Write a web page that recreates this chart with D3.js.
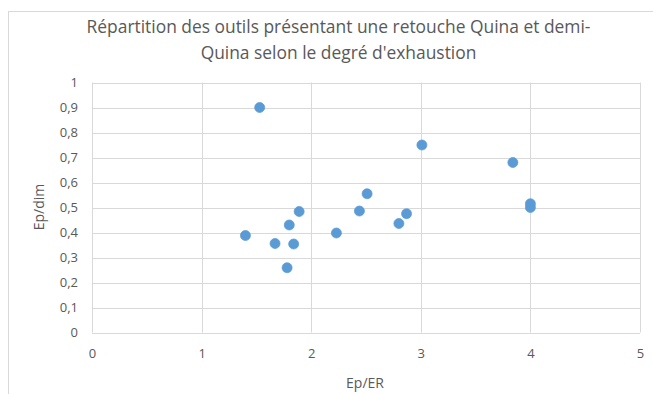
<!DOCTYPE html>
<html>
<head>
<meta charset="utf-8">
<script src="https://cdn.jsdelivr.net/npm/d3@7"></script>
<style>
  html, body { margin: 0; padding: 0; background: #fff; }
  svg { display: block; font-family: "Open Sans", "Liberation Sans", sans-serif; }
</style>
</head>
<body>
<svg id="chart" width="653" height="394"></svg>
<script>
// Ep/ER (x) and Ep/dim (y) for each tool
const epER  = [1.53, 3.01, 3.84, 4.00, 4.00, 2.51, 2.44, 2.87, 2.80, 2.23, 1.89, 1.80, 1.40, 1.67, 1.84, 1.78];
const epDim = [0.90, 0.75, 0.68, 0.515, 0.50, 0.555, 0.486, 0.475, 0.436, 0.398, 0.484, 0.43, 0.388, 0.356, 0.354, 0.259];
const xTicks = [0, 1, 2, 3, 4, 5];
const yTicks = [0, 0.1, 0.2, 0.3, 0.4, 0.5, 0.6, 0.7, 0.8, 0.9, 1];
const titleLines = ["Répartition des outils présentant une retouche Quina et demi-",
                    "Quina selon le degré d'exhaustion"];
const xTitle = "Ep/ER";
const yTitle = "Ep/dim";

const svg = d3.select("#chart");
const textColor = "#595959";
const gridColor = "#d9d9d9";

// chart frame
svg.append("rect")
  .attr("x", 8.5).attr("y", 11.5)
  .attr("width", 660).attr("height", 400)
  .attr("fill", "#fff").attr("stroke", "#d9d9d9");

const plot = { left: 92, right: 640, top: 82.5, bottom: 332.5 };
const x = d3.scaleLinear().domain([0, 5]).range([plot.left, plot.right]);
const y = d3.scaleLinear().domain([0, 1]).range([plot.bottom, plot.top]);

// gridlines
svg.append("g").selectAll("line.h").data(yTicks).join("line")
  .attr("x1", plot.left).attr("x2", plot.right)
  .attr("y1", d => Math.round(y(d)) + 0.5).attr("y2", d => Math.round(y(d)) + 0.5)
  .attr("stroke", gridColor);
svg.append("g").selectAll("line.v").data(xTicks).join("line")
  .attr("y1", plot.top).attr("y2", plot.bottom)
  .attr("x1", d => Math.round(x(d)) + 0.5).attr("x2", d => Math.round(x(d)) + 0.5)
  .attr("stroke", gridColor);

const fmt = d => String(+d.toFixed(1)).replace(".", ",");

// axes (labels only, lines come from the grid)
const xAxis = svg.append("g").attr("transform", `translate(0,${plot.bottom})`)
  .call(d3.axisBottom(x).tickValues(xTicks).tickFormat(fmt).tickSize(0).tickPadding(16));
const yAxis = svg.append("g").attr("transform", `translate(${plot.left},0)`)
  .call(d3.axisLeft(y).tickValues(yTicks).tickFormat(fmt).tickSize(0).tickPadding(14));
[xAxis, yAxis].forEach(g => {
  g.select(".domain").remove();
  g.selectAll("text").attr("fill", textColor).style("font-size", "13px")
    .style("font-family", "'Open Sans', sans-serif");
});

// points
svg.append("g").selectAll("circle").data(epER.map((v, i) => [v, epDim[i]])).join("circle")
  .attr("cx", d => x(d[0])).attr("cy", d => y(d[1]))
  .attr("r", 5).attr("fill", "#5b9bd5")
  .attr("stroke", "#5b9bd5").attr("stroke-width", 0.75);

// title
svg.append("g").selectAll("text").data(titleLines).join("text")
  .attr("x", 338.5).attr("y", (d, i) => 33 + i * 25.5)
  .attr("text-anchor", "middle").attr("fill", textColor)
  .style("font-size", "17.4px")
  .text(d => d);

// axis titles
svg.append("text").attr("x", 365).attr("y", 388)
  .attr("text-anchor", "middle").attr("fill", textColor)
  .style("font-size", "14px").text(xTitle);
svg.append("text").attr("transform", "translate(44,207) rotate(-90)")
  .attr("text-anchor", "middle").attr("fill", textColor)
  .style("font-size", "14px").text(yTitle);
</script>
</body>
</html>
